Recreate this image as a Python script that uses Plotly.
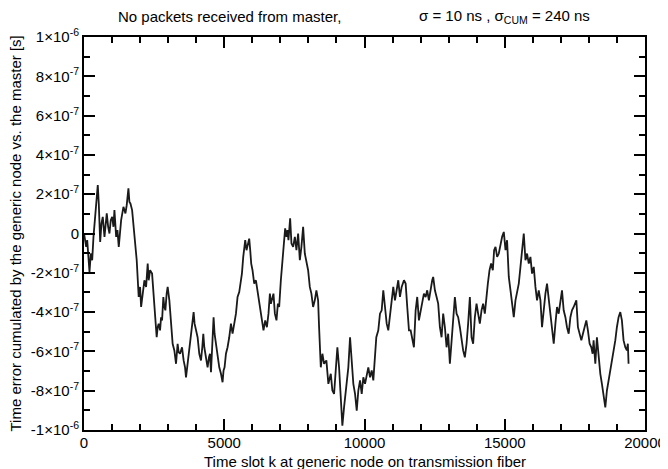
import plotly.graph_objects as go

# Time slot k (x) and cumulated time error in units of 1e-7 s (y)
slot_k = [
    0, 78, 114, 160, 196, 242, 292, 338, 384, 434, 491, 527, 577, 623, 669, 730, 811, 861, 908, 954,
    1004, 1050, 1085, 1146, 1192, 1239, 1324, 1406, 1477, 1523, 1584, 1619, 1655, 1715, 1797, 1879,
    1950, 2000, 2036, 2093, 2153, 2214, 2271,
    2306, 2356, 2427, 2474, 2545, 2591, 2627, 2662, 2712, 2748, 2783, 2829, 2865, 2901, 2947, 2983,
    3043, 3103, 3160, 3221, 3281, 3338, 3374, 3424, 3495, 3552, 3602, 3637, 3694, 3755, 3815, 3872,
    3908, 3943, 3993, 4050, 4110, 4171, 4217, 4253, 4289, 4324, 4370, 4406, 4456, 4491, 4527, 4563,
    4584, 4620, 4655, 4705, 4762, 4822, 4883, 4940, 4975, 5011, 5061, 5118, 5178, 5239, 5296, 5356,
    5417, 5474, 5534,
    5595, 5630, 5677, 5712, 5748, 5794, 5844, 5890, 5926, 5961, 6008, 6068, 6129, 6186, 6246, 6307,
    6363, 6399, 6460, 6520, 6577, 6627, 6662, 6698, 6755, 6805, 6862, 6912, 6958, 7018, 7075, 7136,
    7171, 7218, 7253, 7289, 7349, 7396, 7456, 7517, 7574, 7634, 7695, 7751, 7812, 7872, 7929, 7990,
    8050, 8107, 8168, 8228, 8285, 8346, 8381,
    8442, 8499, 8559, 8641, 8712, 8798, 8855, 8915, 8976, 9033, 9093, 9154, 9211, 9271, 9332, 9389,
    9424, 9485, 9545, 9602, 9663, 9723, 9780, 9841, 9901, 9958, 10019, 10079, 10136, 10197, 10257,
    10314, 10375, 10421, 10492, 10552, 10613, 10670, 10731, 10791, 10848, 10908, 10969, 11026, 11086,
    11147, 11204, 11264, 11325, 11407, 11467, 11524, 11585,
    11645, 11702, 11762, 11823, 11880, 11940, 12001, 12058, 12118, 12179, 12236, 12296, 12357, 12414,
    12449, 12510, 12570, 12627, 12688, 12748, 12805, 12866, 12926, 12983, 13044, 13104, 13161, 13222,
    13282, 13339, 13400, 13460, 13517, 13578, 13638, 13695, 13756, 13816, 13873, 13934, 13994, 14051,
    14112, 14172, 14229, 14290, 14336, 14397, 14457, 14514, 14575, 14621, 14671, 14728, 14788,
    14849, 14906, 14966, 15027, 15083, 15144, 15205, 15261, 15322, 15382, 15439, 15500, 15560, 15617,
    15678, 15738, 15795, 15856, 15916, 15973, 16034, 16094, 16151, 16212, 16272, 16329, 16390, 16450,
    16507, 16568, 16628, 16685, 16746, 16806, 16863, 16923, 16984, 17041, 17101, 17162, 17219, 17279,
    17340, 17397, 17457, 17518, 17552, 17609, 17670, 17730, 17787, 17848, 17908, 17965, 18026, 18086,
    18133, 18168, 18229, 18286, 18346, 18407, 18464, 18524, 18585, 18642, 18703, 18763, 18820, 18880,
    18941, 18998, 19058, 19119, 19176, 19236, 19297, 19354, 19389, 19414,
]

error_e7 = [
    0, -0.68, -0.34, -1.19, -1.96, -1.02, -1.36, -0.17, 0.68, 1.36, 2.46, 1.53, -0.43, 0.51, 0.85, -0.17,
    1.02, 0.34, 0, 0.68, 0.85, 0.34, 1.19, -0.17, 0.17, -0.68, 0.68, 1.36, 1.02, 1.44, 2.3, 1.61, 1.53,
    1.19, -0.17, -1.36, -3.23, -2.72, -3.74, -3.06, -2.38, -2.72, -1.53,
    -2.38, -1.87, -2.04, -2.89, -4.59, -5.28, -4.77, -4.59, -4.93, -4.26, -4.43, -3.23, -3.74, -3.91,
    -3.06, -2.72, -3.40, -4.77, -5.61, -5.95, -6.63, -5.61, -6.04, -6.12, -5.79, -6.46, -6.81, -7.32,
    -6.63, -5.79, -5.10, -4.42, -4.0, -4.59, -4.93, -5.28, -6.12, -6.46, -5.79, -5.10, -5.79, -6.12,
    -6.46, -6.81, -6.29, -6.12, -7.06, -6.12, -5.79, -4.26, -5.10, -5.61, -6.12, -6.81, -7.14, -7.57,
    -6.97, -6.81, -6.12, -5.79, -5.28, -4.59, -5.10, -4.59, -4.08, -3.23, -2.98,
    -2.38, -2.04, -1.19, -0.68, -0.34, -0.85, -0.51, -0.26, -0.85, -1.53, -1.87, -2.55, -2.38, -2.89,
    -3.40, -3.91, -4.42, -4.93, -4.42, -4.77, -4.08, -3.06, -3.57, -3.40, -3.06, -4.08, -4.42, -3.57,
    -3.74, -2.38, -1.36, -0.34, 0.26, -0.17, 0.17, -0.34, 0.77, -0.51, -0.68, -0.17, -0.85, 0, -1.36,
    -0.68, 0.34, -1.02, -1.36, -1.87, -2.72, -3.06, -3.74, -3.40, -2.89, -3.40, -4.77,
    -6.81, -6.12, -6.63, -6.46, -7.65, -7.14, -7.99, -8.16, -7.14, -5.79, -6.81, -8.5, -9.78, -8.85,
    -7.99, -7.48, -6.81, -5.28, -6.63, -7.65, -8.16, -9.02, -7.99, -7.48, -8.16, -7.32, -7.65, -7.14,
    -6.81, -7.32, -6.97, -7.48, -6.46, -5.28, -4.93, -4.08, -3.91, -2.89, -3.74, -4.59, -4.93, -4.08,
    -3.40, -2.72, -3.40, -2.89, -2.38, -3.23, -2.72, -2.38, -2.55, -3.74, -4.93,
    -4.93, -5.28, -5.79, -3.91, -3.23, -4.42, -3.91, -3.40, -3.06, -3.23, -2.89, -3.40, -2.72, -2.38,
    -2.21, -2.89, -3.23, -3.57, -4.77, -5.28, -4.08, -4.77, -5.79, -5.10, -6.63, -5.28, -4.26, -3.23,
    -4.08, -4.26, -4.77, -5.44, -5.95, -6.30, -5.61, -4.59, -3.23, -5.28, -5.61, -4.26, -3.57, -4.08,
    -4.59, -3.91, -3.57, -4.08, -3.23, -2.55, -1.87, -1.53, -1.87, -0.85, -0.68, -1.19, -1.02,
    -0.51, -0.17, 0.08, -0.85, -0.34, -2.21, -2.89, -3.74, -4.26, -3.40, -2.89, -2.55, -1.70, -0.68,
    0, -1.36, -1.02, -1.53, -1.19, -2.04, -1.70, -2.72, -3.40, -2.89, -3.40, -4.77, -3.74, -3.06,
    -2.55, -3.40, -3.91, -4.77, -5.61, -4.59, -3.74, -4.08, -3.40, -2.89, -3.91, -4.26, -4.77, -5.10,
    -4.26, -3.91, -3.74, -3.57, -3.40, -4.77, -5.10, -5.44, -5.10, -4.77, -4.42, -4.93, -5.61, -5.79,
    -6.12, -5.44, -6.63, -5.28, -6.30, -7.14, -7.65, -8.16, -8.85, -7.99, -7.48, -6.81, -6.30, -5.95,
    -5.44, -4.77, -4.26, -4.0, -4.42, -5.44, -5.79, -5.95, -5.61, -6.63,
]
assert len(slot_k) == len(error_e7), (len(slot_k), len(error_e7))

UNIT = 1e-7
error_s = [v * UNIT for v in error_e7]

x_tick_vals = [0, 5000, 10000, 15000, 20000]
x_tick_text = ["0", "5000", "10000", "15000", "20000"]
y_tick_vals = [-1e-6, -8e-7, -6e-7, -4e-7, -2e-7, 0, 2e-7, 4e-7, 6e-7, 8e-7, 1e-6]
y_tick_text = ["-1×10<sup>-6</sup>", "-8×10<sup>-7</sup>", "-6×10<sup>-7</sup>", "-4×10<sup>-7</sup>",
               "-2×10<sup>-7</sup>", "0", "2×10<sup>-7</sup>", "4×10<sup>-7</sup>", "6×10<sup>-7</sup>",
               "8×10<sup>-7</sup>", "1×10<sup>-6</sup>"]
y_minor_vals = [-9e-7, -7e-7, -5e-7, -3e-7, -1e-7, 1e-7, 3e-7, 5e-7, 7e-7, 9e-7]

FONT = "Liberation Sans, Arial, sans-serif"

fig = go.Figure()
fig.add_trace(go.Scatter(x=slot_k, y=error_s, mode="lines",
                         line=dict(color="#1a1a1a", width=1.8), showlegend=False))

axis_common = dict(
    showgrid=False, zeroline=False, showline=True, linecolor="black", linewidth=2,
    mirror="ticks", ticks="inside", ticklen=11, tickwidth=1.5, tickcolor="black",
    tickfont=dict(family=FONT, size=15, color="black"),
)

fig.update_xaxes(range=[0, 20000], tickvals=x_tick_vals, ticktext=x_tick_text,
                 ticklabelstandoff=-2,
                 minor=dict(ticks="inside", dtick=1000, tick0=0, ticklen=6, tickwidth=1.5,
                            tickcolor="black", showgrid=False),
                 **axis_common)
fig.update_yaxes(range=[-1e-6, 1e-6], tickvals=y_tick_vals, ticktext=y_tick_text,
                 minor=dict(ticks="inside", tickvals=y_minor_vals,
                            ticklen=6, tickwidth=1.5, tickcolor="black", showgrid=False),
                 **axis_common)

# The page body has an 8px margin, so the figure is 8px smaller and margins shifted accordingly
fig.update_layout(
    width=660, height=461,
    margin=dict(l=76, r=23, t=29, b=39, autoexpand=False),
    paper_bgcolor="white", plot_bgcolor="white",
    font=dict(family=FONT, size=15, color="black"),
    annotations=[
        dict(text="No packets received from master,", xref="paper", yref="paper",
             x=0.260, y=1, xanchor="center", yanchor="middle", yshift=21, showarrow=False,
             font=dict(family=FONT, size=15)),
        dict(text="σ = 10 ns , σ<sub>CUM</sub> = 240 ns", xref="paper", yref="paper",
             x=0.750, y=1, xanchor="center", yanchor="middle", yshift=21, showarrow=False,
             font=dict(family=FONT, size=15)),
        dict(text="Time slot k at generic node on transmission fiber", xref="paper", yref="paper",
             x=0.5, y=0, xanchor="center", yanchor="middle", yshift=-31, showarrow=False,
             font=dict(family=FONT, size=15)),
        dict(text="Time error cumulated by the generic node vs. the master [s]", xref="paper",
             yref="paper", x=0, y=0.5, xanchor="center", yanchor="middle", xshift=-69,
             textangle=-90, showarrow=False, font=dict(family=FONT, size=15)),
    ],
)

fig.write_html("out.html")
